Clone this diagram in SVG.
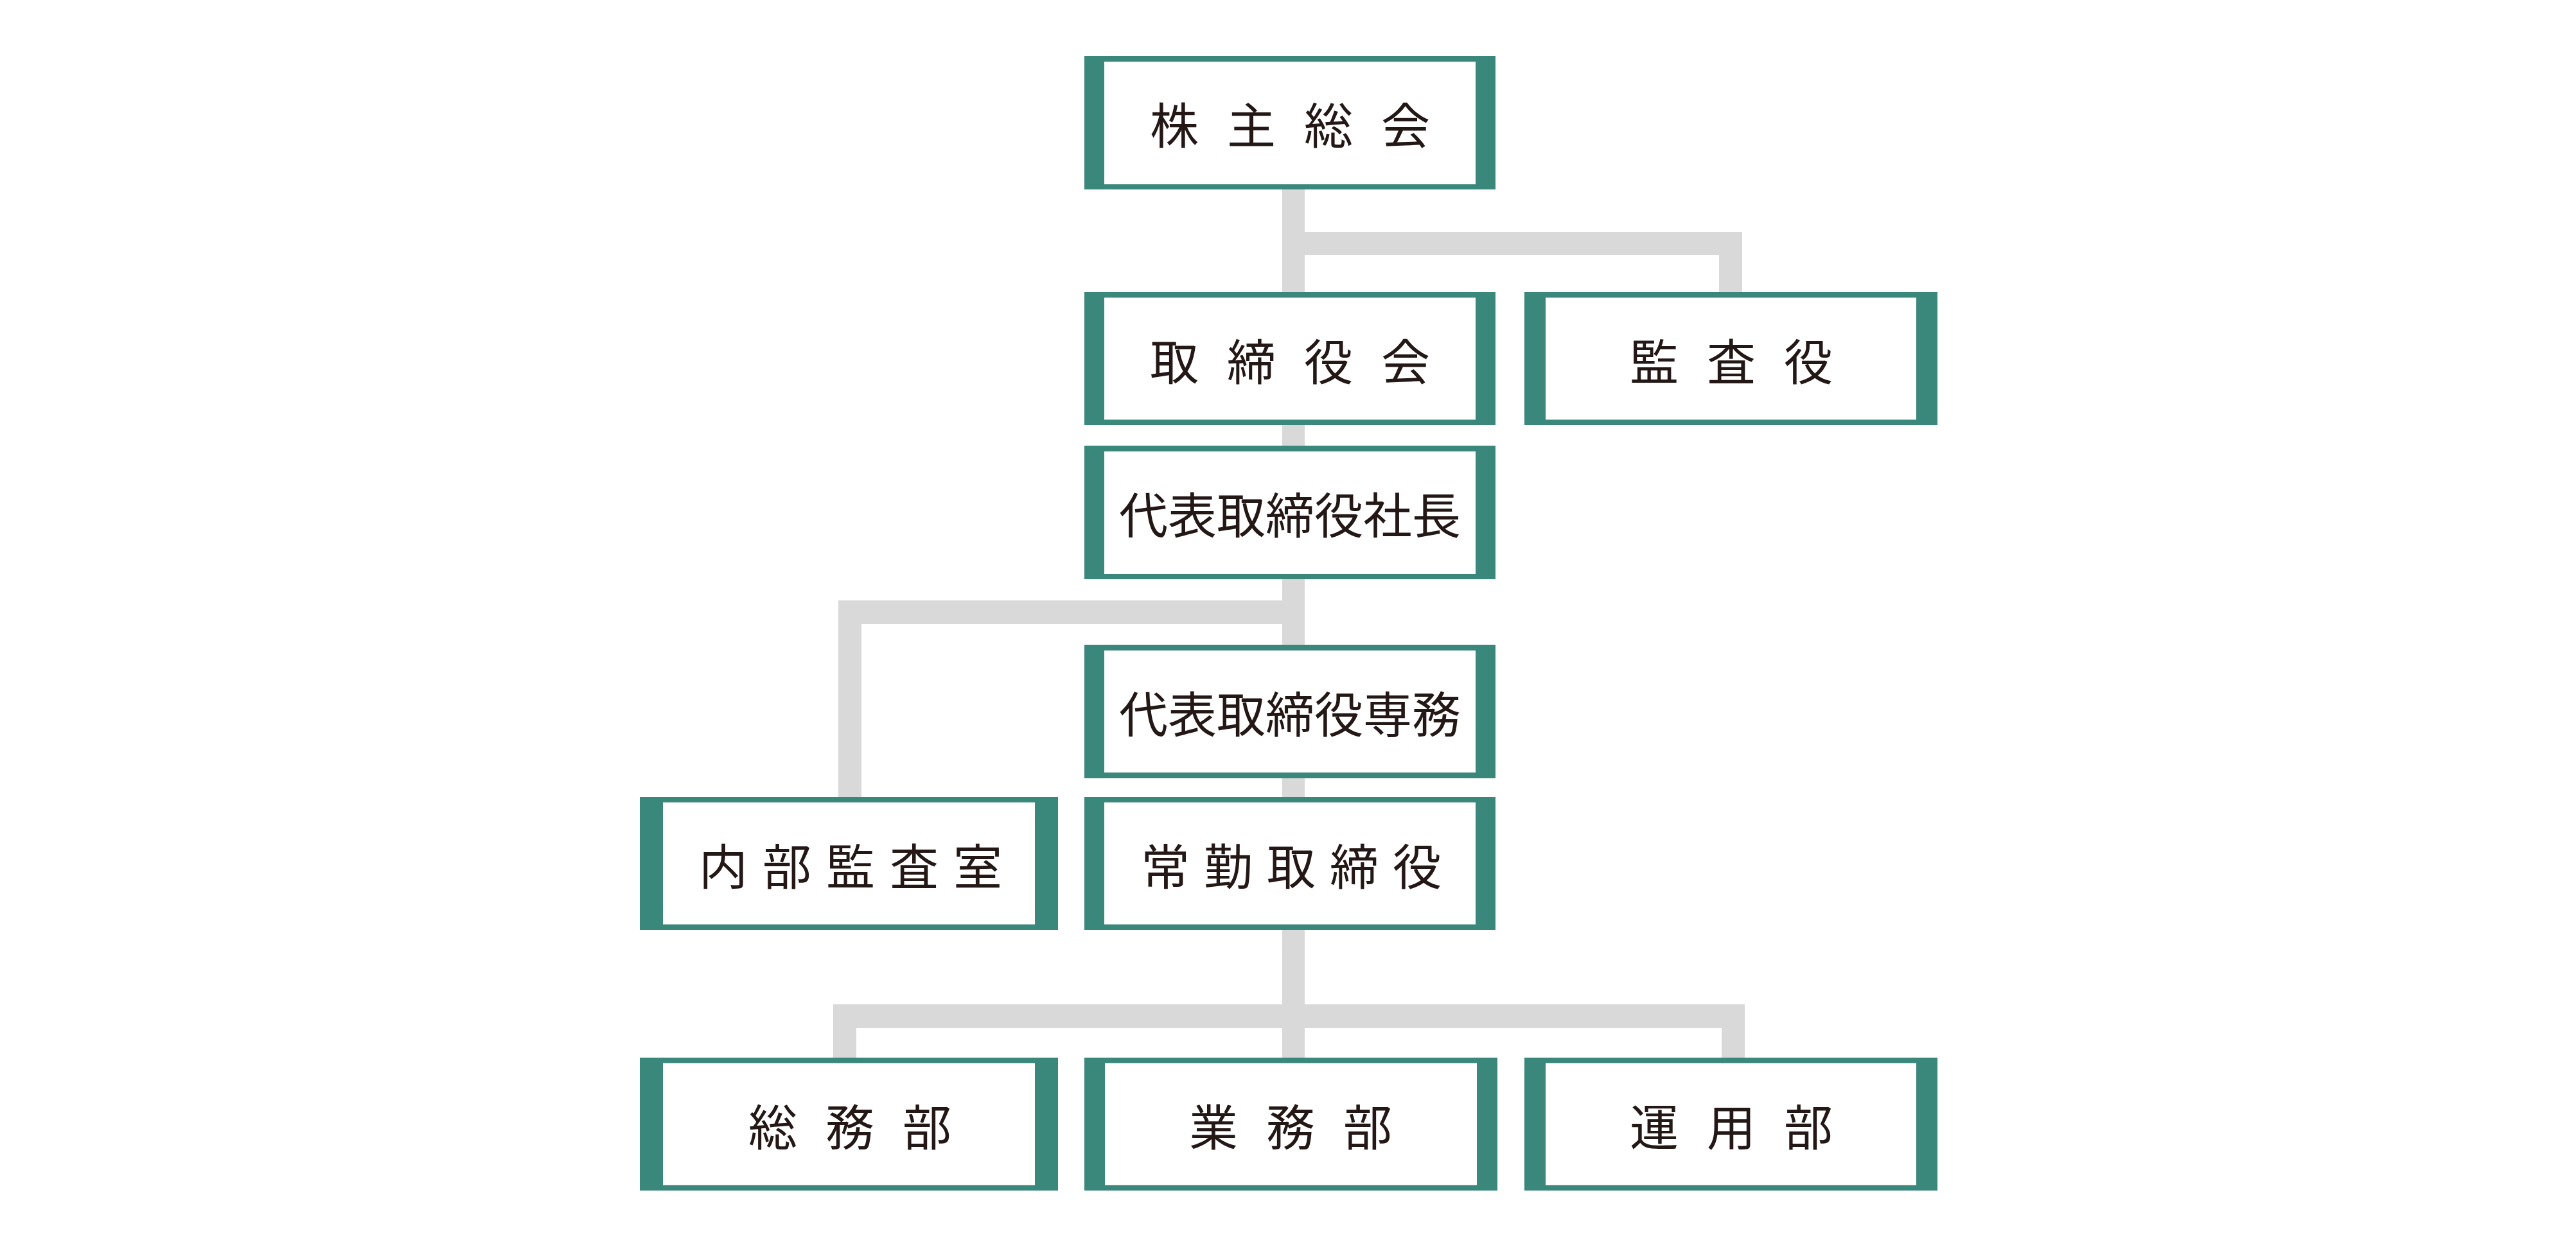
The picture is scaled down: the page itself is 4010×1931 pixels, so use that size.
<svg xmlns="http://www.w3.org/2000/svg" width="4010" height="1931" viewBox="0 0 4010 1931">
<style>
.frame{fill:#3a877b}
.inner{fill:#ffffff}
.conn{fill:#d9d9d9}
.lbl{font-family:"Noto Sans CJK JP","Noto Sans CJK SC",sans-serif;font-size:76px;fill:#231815;text-anchor:middle;dominant-baseline:central}
</style>
<rect width="4010" height="1931" fill="#ffffff"/>
<g id="connectors">
<rect class="conn" x="1996" y="290" width="35" height="170"/>
<rect class="conn" x="1996" y="361" width="716" height="36"/>
<rect class="conn" x="2676" y="361" width="36" height="99"/>
<rect class="conn" x="1996" y="657" width="35" height="42"/>
<rect class="conn" x="1996" y="897" width="35" height="112"/>
<rect class="conn" x="1305" y="935" width="726" height="37"/>
<rect class="conn" x="1305" y="935" width="36" height="311"/>
<rect class="conn" x="1996" y="1207" width="35" height="39"/>
<rect class="conn" x="1996" y="1443" width="35" height="209"/>
<rect class="conn" x="1297" y="1564" width="1419" height="37"/>
<rect class="conn" x="1297" y="1564" width="36" height="88"/>
<rect class="conn" x="2680" y="1564" width="36" height="88"/>
</g>
<g id="node-kabunushi">
<rect class="frame" x="1688" y="87" width="640" height="208"/>
<rect class="inner" x="1719" y="96" width="578" height="191"/>
<text class="lbl" x="1828 1948 2068 2188" y="191">株主総会</text>
</g>
<g id="node-torishimariyakukai">
<rect class="frame" x="1688" y="455" width="640" height="207"/>
<rect class="inner" x="1719" y="463.5" width="578" height="190"/>
<text class="lbl" x="1828 1948 2068 2188" y="558.5">取締役会</text>
</g>
<g id="node-kansayaku">
<rect class="frame" x="2373" y="455" width="643" height="207"/>
<rect class="inner" x="2406" y="463.5" width="577" height="190"/>
<text class="lbl" x="2575 2695 2815" y="558.5">監査役</text>
</g>
<g id="node-shacho">
<rect class="frame" x="1688" y="694" width="640" height="208"/>
<rect class="inner" x="1719" y="703" width="578" height="191"/>
<text class="lbl" x="2008" y="798">代表取締役社長</text>
</g>
<g id="node-senmu">
<rect class="frame" x="1688" y="1004" width="640" height="208"/>
<rect class="inner" x="1719" y="1013" width="578" height="190"/>
<text class="lbl" x="2008" y="1108">代表取締役専務</text>
</g>
<g id="node-naibukansa">
<rect class="frame" x="996" y="1241" width="651" height="207"/>
<rect class="inner" x="1032" y="1249.5" width="579" height="190"/>
<text class="lbl" x="1126 1225 1324 1423 1522" y="1344.5">内部監査室</text>
</g>
<g id="node-jokin">
<rect class="frame" x="1688" y="1241" width="640" height="207"/>
<rect class="inner" x="1719" y="1249.5" width="578" height="190"/>
<text class="lbl" x="1814 1912 2010 2108 2206" y="1344.5">常勤取締役</text>
</g>
<g id="node-somu">
<rect class="frame" x="996" y="1647" width="651" height="207"/>
<rect class="inner" x="1032" y="1655.5" width="579" height="190"/>
<text class="lbl" x="1203 1323 1443" y="1750.5">総務部</text>
</g>
<g id="node-gyomu">
<rect class="frame" x="1688" y="1647" width="643" height="207"/>
<rect class="inner" x="1720" y="1655.5" width="579" height="190"/>
<text class="lbl" x="1889 2009 2129" y="1750.5">業務部</text>
</g>
<g id="node-unyo">
<rect class="frame" x="2373" y="1647" width="643" height="207"/>
<rect class="inner" x="2406" y="1655.5" width="577" height="190"/>
<text class="lbl" x="2575 2695 2815" y="1750.5">運用部</text>
</g>
</svg>
